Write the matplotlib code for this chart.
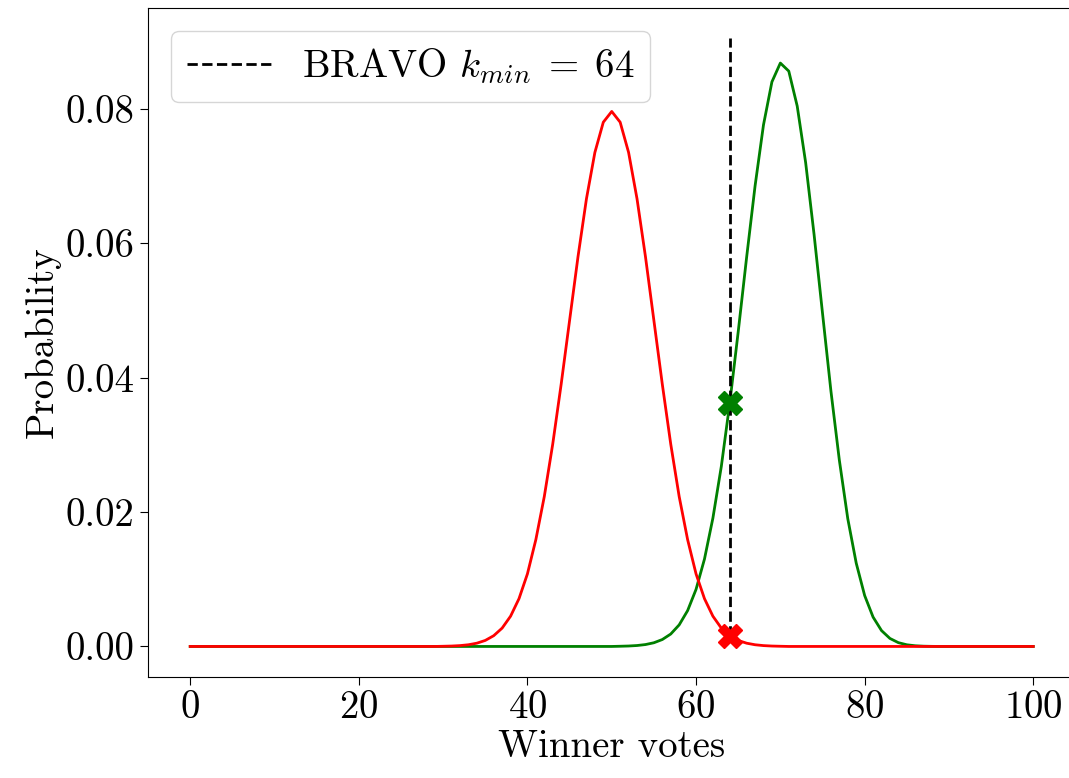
import matplotlib
matplotlib.use("Agg")
import matplotlib.pyplot as plt

plt.rcParams['font.family'] = 'serif'
plt.rcParams['font.serif'] = ['cmr10', 'DejaVu Serif']
plt.rcParams['mathtext.fontset'] = 'cm'
plt.rcParams['axes.formatter.use_mathtext'] = True

votes = list(range(0, 101))

# Null-hypothesis (tie) distribution (k = 30..70, ~0 elsewhere)
red_core = [0.0000282, 0.0000607, 0.000126, 0.000252, 0.000484, 0.000895, 0.00160,
            0.00273, 0.00450, 0.00711, 0.0108, 0.0159, 0.0223, 0.0301, 0.0390,
            0.0485, 0.0580, 0.0666, 0.0735, 0.0780, 0.0796, 0.0780, 0.0735,
            0.0666, 0.0580, 0.0485, 0.0390, 0.0301, 0.0223, 0.0159, 0.0108,
            0.00711, 0.00450, 0.00273, 0.00160, 0.000895, 0.000484, 0.000252,
            0.000126, 0.0000607, 0.0000282]
red_probs = [0.0] * 30 + red_core + [0.0] * 30

# Reported-outcome distribution (k = 51..88, ~0 elsewhere)
green_core = [0.0000298, 0.0000655, 0.000138, 0.000281, 0.000549, 0.00103, 0.00185,
              0.00321, 0.00533, 0.00849, 0.0130, 0.0191, 0.0268, 0.0362, 0.0468,
              0.0579, 0.0685, 0.0776, 0.0840, 0.0868, 0.0856, 0.0804, 0.0720,
              0.0613, 0.0496, 0.0380, 0.0277, 0.0190, 0.0124, 0.00758, 0.00437,
              0.00236, 0.00119, 0.000564, 0.000248, 0.000101, 0.0000378, 0.0000130]
green_probs = [0.0] * 51 + green_core + [0.0] * 12

k_min = 64
k_min_label = r'BRAVO $k_{min}\;=\;64$'
line_top = 0.0905

fig, ax = plt.subplots(figsize=(10.69, 7.78), dpi=100)
fig.subplots_adjust(left=0.1385, right=1.006, top=0.99, bottom=0.13)

ax.plot(votes, green_probs, color='green', lw=2)
ax.plot(votes, red_probs, color='red', lw=2)
ax.vlines(k_min, red_probs[k_min], line_top, colors='black', linestyles='--', lw=2,
          label=k_min_label)
ax.plot([k_min], [green_probs[k_min]], marker='X', color='green', markersize=17)
ax.plot([k_min], [red_probs[k_min]], marker='X', color='red', markersize=17)

ax.set_xticks([0, 20, 40, 60, 80, 100])
ax.set_yticks([0.00, 0.02, 0.04, 0.06, 0.08])
ax.set_yticklabels(['0.00', '0.02', '0.04', '0.06', '0.08'])
ax.tick_params(labelsize=28, length=6)
ax.set_xlabel('Winner votes', fontsize=28, labelpad=2)
ax.set_ylabel('Probability', fontsize=28, labelpad=4)
ax.legend(loc='upper left', fontsize=28, handlelength=2.15, borderaxespad=0.6)

fig.savefig('out.png', dpi=100)
